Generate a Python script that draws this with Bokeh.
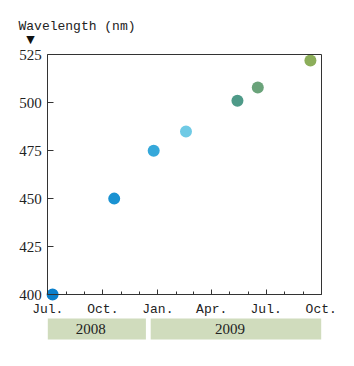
from datetime import datetime
from bokeh.plotting import figure
from bokeh.models import Range1d, FixedTicker, Label, LinearAxis, ColumnDataSource
from bokeh.embed import file_html
from bokeh.resources import INLINE
from bokeh.core.properties import value

# ---- data ----
dates = ["2008-07-09", "2008-10-20", "2008-12-25", "2009-02-17",
         "2009-05-14", "2009-06-17", "2009-09-13"]
wavelengths = [400, 450, 475, 485, 501, 508, 522]
colors = ["#0a7fcb", "#1a92d2", "#35a8da", "#6fcae5",
          "#4e9a88", "#6aa37a", "#8cae5a"]

y_ticks = [400, 425, 450, 475, 500, 525]
month_ticks = ["2008-07-01", "2008-08-01", "2008-09-01", "2008-10-01",
               "2008-11-01", "2008-12-01", "2009-01-01", "2009-02-01",
               "2009-03-01", "2009-04-01", "2009-05-01", "2009-06-01",
               "2009-07-01", "2009-08-01", "2009-09-01", "2009-10-01"]
major_months = ["2008-07-01", "2008-10-01", "2009-01-01",
                "2009-04-01", "2009-07-01", "2009-10-01"]
major_labels = ["Jul.", "Oct.", "Jan.", "Apr.", "Jul.", "Oct."]
years = ["2008", "2009"]
year_start = ["2008-07-01", "2008-12-20"]
year_end = ["2008-12-12", "2009-10-01"]

MONO = "Liberation Mono"
SERIF = "Liberation Serif"
TXT = "#222222"
AX = "#333333"
W, H = 354, 366


def dt(s):
    return datetime.strptime(s, "%Y-%m-%d")


def ms(d):
    return (d - datetime(1970, 1, 1)).total_seconds() * 1000


y_lo, y_hi = y_ticks[0], y_ticks[-1]
x_lo, x_hi = ms(dt(month_ticks[0])), ms(dt(month_ticks[-1]))

# layout: the data box occupies pixels [47.3, 320.7] x [54.3, 294]
L, R, T, B = 47.3, 320.7, 54.3, 294.0
kx = (x_hi - x_lo) / (R - L)
ky = (y_hi - y_lo) / (B - T)

p = figure(width=W, height=H, x_axis_type="datetime",
           output_backend="svg", toolbar_location=None,
           min_border=0, min_border_left=0, min_border_right=0,
           min_border_top=0, min_border_bottom=0,
           x_range=Range1d(x_lo - L * kx, x_hi + (W - R) * kx),
           y_range=Range1d(y_lo - (H - B) * ky, y_hi + T * ky))
p.outline_line_color = None
p.xgrid.visible = False
p.ygrid.visible = False
p.background_fill_color = "white"
p.border_fill_color = "white"

# x axis
xa = p.xaxis[0]
xa.fixed_location = y_lo
xa.ticker = FixedTicker(ticks=[ms(dt(m)) for m in major_months],
                        minor_ticks=[ms(dt(m)) for m in month_ticks])
xa.major_label_overrides = {ms(dt(m)): l for m, l in zip(major_months, major_labels)}
xa.major_tick_in = 5
xa.major_tick_out = 0
xa.minor_tick_in = 3
xa.minor_tick_out = 0
xa.major_label_standoff = 7
xa.axis_line_color = AX
xa.major_tick_line_color = AX
xa.minor_tick_line_color = AX
xa.major_label_text_font = MONO
xa.major_label_text_font_size = "13px"
xa.major_label_text_color = TXT
xa.bounds = (x_lo, x_hi)

# y axis
ya = p.yaxis[0]
ya.fixed_location = x_lo
ya.ticker = FixedTicker(ticks=y_ticks)
ya.bounds = (y_lo, y_hi)
ya.major_tick_in = 6
ya.major_tick_out = 0
ya.minor_tick_in = 0
ya.minor_tick_out = 0
ya.major_label_standoff = 6
ya.axis_line_color = AX
ya.major_tick_line_color = AX
ya.major_label_text_font = SERIF
ya.major_label_text_font_size = "15px"
ya.major_label_text_color = TXT

# right and top frame edges
p.add_layout(LinearAxis(fixed_location=x_hi, ticker=FixedTicker(ticks=[]),
                        bounds=(y_lo, y_hi), axis_line_color=AX,
                        major_tick_in=0, major_tick_out=0,
                        minor_tick_in=0, minor_tick_out=0), "right")
p.add_layout(LinearAxis(fixed_location=y_hi, ticker=FixedTicker(ticks=[]),
                        bounds=(x_lo, x_hi), axis_line_color=AX,
                        major_tick_in=0, major_tick_out=0,
                        minor_tick_in=0, minor_tick_out=0), "above")

# year bands (pixel rows 318..339 below the axis)
band_y0 = y_lo - (339 - B) * ky
band_y1 = y_lo - (318 - B) * ky
bsrc = ColumnDataSource(dict(
    left=[dt(s) for s in year_start], right=[dt(s) for s in year_end],
    mid=[dt(a) + (dt(b) - dt(a)) / 2 for a, b in zip(year_start, year_end)],
    text=years))
p.quad(left="left", right="right", bottom=band_y0, top=band_y1,
       source=bsrc, fill_color="#d0dcbd", line_color=None)
p.text(x="mid", y=(band_y0 + band_y1) / 2, text="text", source=bsrc,
       text_align="center", text_baseline="middle", x_offset=-6,
       text_font=value(SERIF), text_font_size="15px", text_color=TXT)

# points
src = ColumnDataSource(dict(x=[dt(d) for d in dates], y=wavelengths, c=colors))
p.scatter(x="x", y="y", color="c", size=12, line_color=None, source=src)

# y-axis title and marker (screen units, from bottom-left)
p.add_layout(Label(x=18, y=H - 26, x_units="screen", y_units="screen",
                   text="Wavelength (nm)", text_font=MONO,
                   text_font_size="13px", text_color=TXT,
                   text_baseline="alphabetic"))
p.add_layout(Label(x=30, y=H - 39, x_units="screen", y_units="screen",
                   text="▼", text_font="DejaVu Sans", text_align="center",
                   text_font_size="11px", text_color="#111111",
                   text_baseline="alphabetic"))

open("out.html", "w").write(file_html(p, INLINE))
